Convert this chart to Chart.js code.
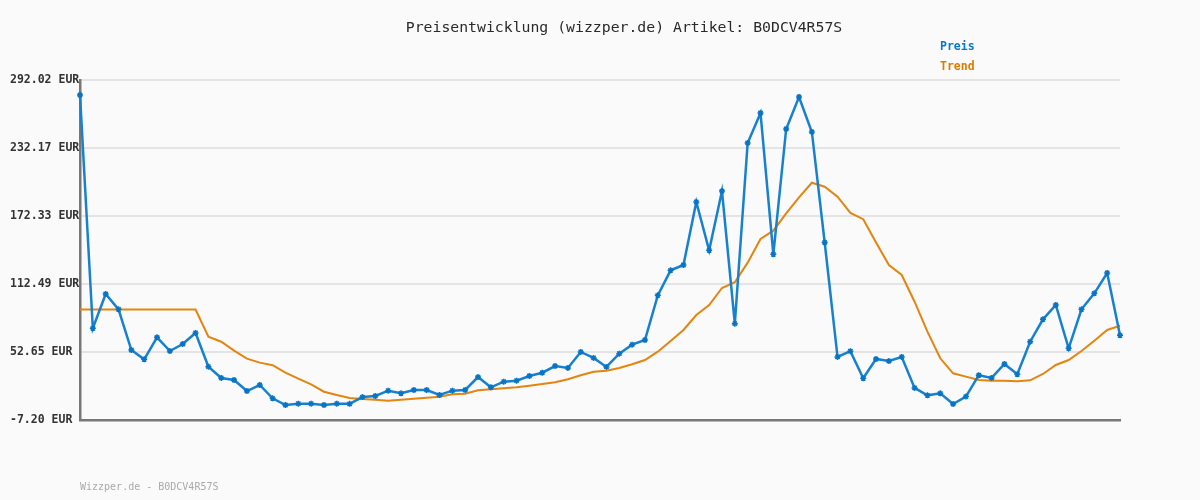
<!DOCTYPE html>
<html>
<head>
<meta charset="utf-8">
<script src="https://cdn.jsdelivr.net/npm/chart.js@4/dist/chart.umd.min.js"></script>
<style>
  html, body { margin: 0; padding: 0; background: #fafafa; }
  #wrap { width: 1200px; height: 500px; position: relative; }
</style>
</head>
<body>
<div id="wrap"><canvas id="c" width="1200" height="500"></canvas></div>
<script>
const chartTitle = 'Preisentwicklung (wizzper.de) Artikel: B0DCV4R57S';
const footerText = 'Wizzper.de - B0DCV4R57S';
const seriesNames = ['Preis', 'Trend'];
const yTicks = [-7.20, 52.65, 112.49, 172.33, 232.17, 292.02];

const preis = [278.8, 73.5, 103.7, 90.2, 54.4, 46.2, 65.6, 53.5, 59.7, 69.4,
  39.7, 29.8, 28.0, 18.3, 23.6, 11.9, 6.0, 7.2, 7.2, 6.0,
  7.2, 7.0, 13.0, 13.9, 18.6, 16.3, 19.2, 19.2, 14.8, 18.6,
  19.2, 30.6, 21.6, 26.5, 27.4, 31.5, 34.4, 40.3, 38.6, 52.7,
  47.4, 39.5, 51.2, 59.1, 63.2, 102.5, 124.5, 129.2, 184.7, 142.1,
  194.3, 77.6, 236.6, 263.0, 138.6, 248.9, 277.1, 246.3, 149.0, 48.3,
  53.4, 29.5, 46.5, 44.7, 48.3, 21.0, 14.5, 16.3, 6.9, 13.4,
  32.2, 29.8, 42.1, 33.0, 61.7, 81.4, 94.0, 55.9, 90.2, 104.3,
  122.2, 67.3];

const trend = [90.0, 90.0, 90.0, 90.0, 90.0, 90.0, 90.0, 90.0, 90.0, 90.0,
  66.1, 61.7, 53.8, 46.8, 43.3, 41.0, 34.5, 29.2, 24.2, 17.7,
  14.8, 12.2, 11.3, 10.7, 9.8, 10.7, 11.6, 12.4, 13.3, 15.4,
  16.0, 18.9, 19.8, 20.7, 21.6, 23.0, 24.5, 26.0, 28.6, 32.2,
  35.3, 36.2, 38.6, 41.8, 45.6, 52.9, 62.3, 72.0, 85.2, 94.0,
  109.0, 114.0, 131.3, 152.1, 159.4, 174.7, 188.8, 201.6, 198.1, 189.4,
  175.0, 169.5, 149.0, 129.2, 120.4, 96.9, 70.5, 47.1, 33.9, 31.0,
  28.0, 27.4, 27.4, 26.9, 27.7, 33.3, 41.2, 45.6, 53.5, 62.6,
  72.0, 75.8];

const categories = preis.map((_, i) => String(i + 1));

const mono = '"DejaVu Sans Mono", "Liberation Mono", monospace';

const textPlugin = {
  id: 'texts',
  beforeDraw(chart) {
    const ctx = chart.ctx;
    ctx.save();
    ctx.fillStyle = '#fafafa';
    ctx.fillRect(0, 0, chart.width, chart.height);
    ctx.restore();
  },
  afterDraw(chart) {
    const ctx = chart.ctx;
    ctx.save();
    ctx.textBaseline = 'middle';
    ctx.font = '14.8px ' + mono;
    ctx.fillStyle = '#2a2a2a';
    ctx.textAlign = 'center';
    ctx.fillText(chartTitle, 624, 28);
    ctx.textAlign = 'left';
    ctx.font = 'bold 11.5px ' + mono;
    ctx.fillStyle = '#0a78c8';
    ctx.fillText(seriesNames[0], 940, 47);
    ctx.fillStyle = '#e07b00';
    ctx.fillText(seriesNames[1], 940, 67);
    ctx.font = '10px ' + mono;
    ctx.fillStyle = '#aaaaaa';
    ctx.fillText(footerText, 80, 487);
    ctx.restore();
  }
};

new Chart(document.getElementById('c'), {
  type: 'line',
  data: {
    labels: categories,
    datasets: [
      {
        label: seriesNames[1],
        data: trend,
        borderColor: '#e3850f',
        borderWidth: 2,
        pointRadius: 0,
        tension: 0,
        order: 2
      },
      {
        label: seriesNames[0],
        data: preis,
        borderColor: '#1781cf',
        backgroundColor: '#0a74c4',
        borderWidth: 2.5,
        pointStyle: 'star',
        pointRadius: 3,
        pointBorderColor: '#0a74c4',
        pointBorderWidth: 1.5,
        tension: 0,
        order: 1
      }
    ]
  },
  options: {
    responsive: false,
    animation: false,
    layout: { padding: { top: 80, right: 80, bottom: 80, left: 10 } },
    plugins: {
      legend: { display: false },
      title: { display: false },
      tooltip: { enabled: false }
    },
    scales: {
      x: {
        offset: false,
        grid: { display: false, drawTicks: false },
        border: { display: true, color: '#777777', width: 2.5 },
        ticks: { display: false },
        afterFit(axis) { axis.height = 0; }
      },
      y: {
        min: -7.20,
        max: 292.02,
        afterBuildTicks(axis) { axis.ticks = yTicks.map(v => ({ value: v })); },
        afterFit(axis) { axis.width = 70; },
        grid: { color: '#e4e4e4', lineWidth: 2, drawTicks: false },
        border: { display: true, color: '#777777', width: 2.5 },
        ticks: {
          crossAlign: 'far',
          padding: 0,
          color: '#333333',
          font: { family: mono, size: 11.5, weight: 'bold' },
          callback: v => Number(v).toFixed(2) + ' EUR'
        }
      }
    }
  },
  plugins: [textPlugin]
});
</script>
</body>
</html>
